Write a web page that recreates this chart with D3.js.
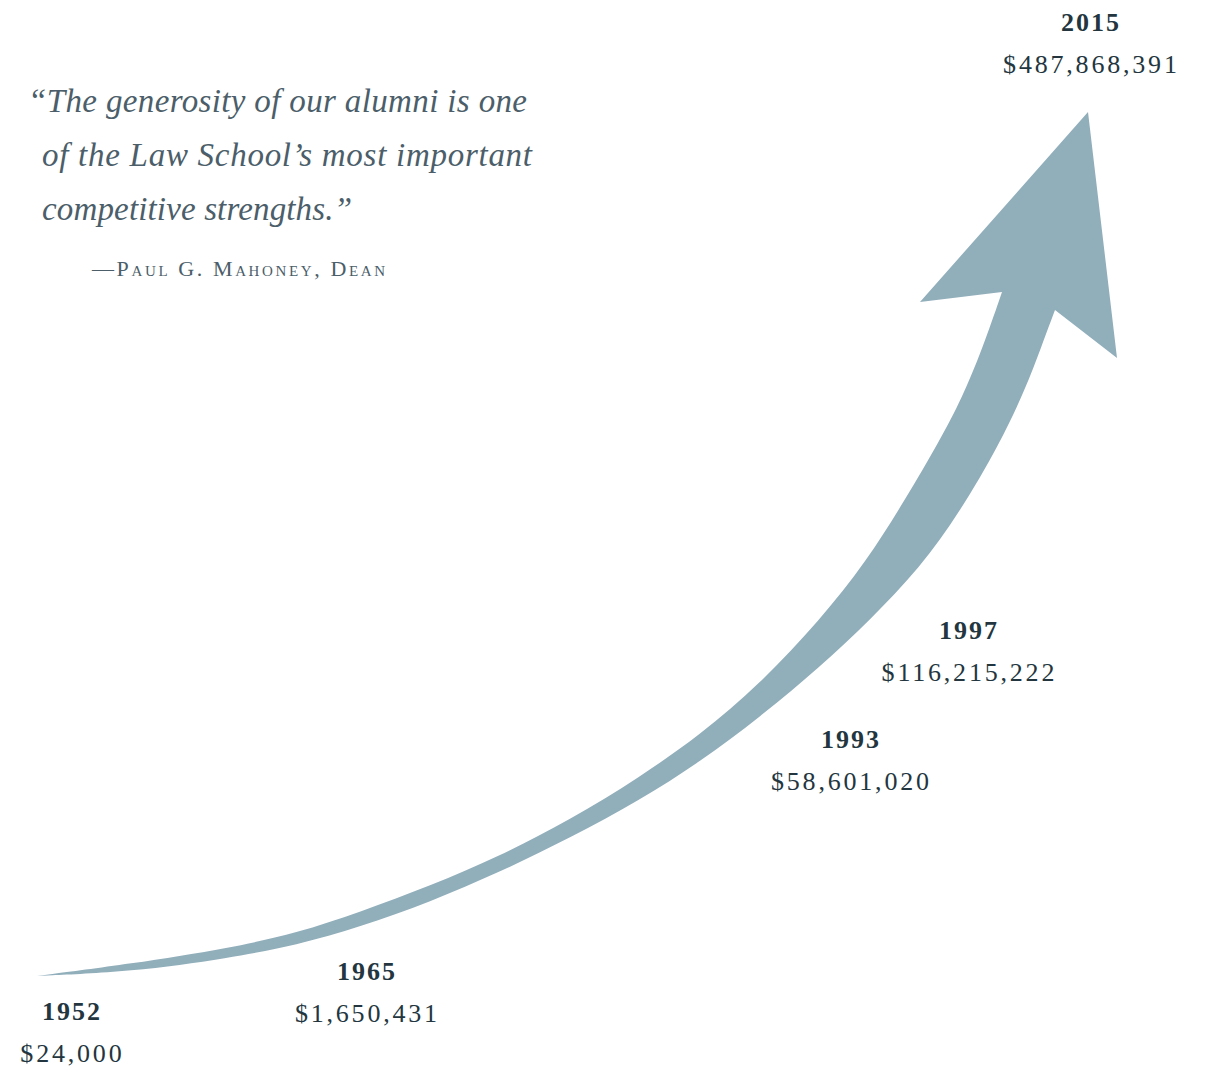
<!DOCTYPE html>
<html>
<head>
<meta charset="utf-8">
<script src="https://cdn.jsdelivr.net/npm/d3@7"></script>
<style>
  html, body { margin: 0; padding: 0; background: #ffffff; }
  svg { display: block; }
</style>
</head>
<body>
<svg id="chart" width="1214" height="1068"></svg>
<script>
// ---- data ----
const years = [1952, 1965, 1993, 1997, 2015];
const values = [24000, 1650431, 58601020, 116215222, 487868391];

const quoteLines = [
  "\u201CThe generosity of our alumni is one",
  "of the Law School\u2019s most important",
  "competitive strengths.\u201D"
];
const attribution = "\u2014Paul G. Mahoney, Dean";

// ---- layout (label anchors, not data) ----
const labelCX = [71, 366, 850, 968, 1090];
const labelBaseY = [1020, 980, 748, 639, 31];

// decorative arrow outline (upper edge tail->head, lower edge tail->head)
const upperEdge = [
  [37, 976], [130, 964], [230, 948], [297, 933], [360, 912], [430, 886],
  [500, 856], [570, 820], [640, 777], [700, 735], [760, 684], [820, 620],
  [866, 562], [905, 500], [940, 440], [962, 398], [982, 350], [1002, 292]
];
const lowerEdge = [
  [37, 976], [130, 972], [230, 958], [297, 945], [360, 927], [430, 902],
  [500, 872], [570, 838], [640, 800], [700, 762], [760, 717], [820, 667],
  [870, 620], [920, 568], [960, 512], [1000, 443], [1025, 390], [1042, 345],
  [1055, 310]
];
const head = [[920, 302], [1088, 112], [1117, 358]];

const colArrow = "#91aebb";
const colLabel = "#233640";
const colQuote = "#4b5e69";

const svg = d3.select("#chart");

// ---- arrow ----
const edge = d3.line().curve(d3.curveBasis);
const upPath = edge(upperEdge);
const lowRev = edge(lowerEdge.slice().reverse());
const headPart = "L" + head[0].join(",") + "L" + head[1].join(",") + "L" + head[2].join(",");
const d = upPath + headPart + "L" + lowRev.slice(1) + "Z";
svg.append("path").attr("d", d).attr("fill", colArrow);

// ---- labels ----
const fmt = d3.format("$,");
const g = svg.append("g").attr("font-family", "'Liberation Serif', 'Times New Roman', serif");
years.forEach((yr, i) => {
  g.append("text")
    .attr("x", labelCX[i] + 1)
    .attr("y", labelBaseY[i])
    .attr("text-anchor", "middle")
    .attr("font-size", 26)
    .attr("font-weight", "bold")
    .attr("letter-spacing", 2)
    .attr("fill", colLabel)
    .text(yr);
  g.append("text")
    .attr("x", labelCX[i] + 1.4)
    .attr("y", labelBaseY[i] + 42)
    .attr("text-anchor", "middle")
    .attr("font-size", 26)
    .attr("letter-spacing", 2.8)
    .attr("fill", colLabel)
    .text(fmt(values[i]));
});

// ---- quote ----
const qx = [28, 42, 42];
const qy = [112, 166, 220];
const qw = [499, 490, 310];
quoteLines.forEach((t, i) => {
  g.append("text")
    .attr("x", qx[i]).attr("y", qy[i])
    .attr("font-size", 33)
    .attr("font-style", "italic")
    .attr("fill", colQuote)
    .attr("textLength", qw[i])
    .attr("lengthAdjust", "spacing")
    .text(t);
});
g.append("text")
  .attr("x", 92).attr("y", 276)
  .attr("font-size", 22)
  .attr("font-variant", "small-caps")
  .attr("fill", colQuote)
  .attr("textLength", 293)
  .attr("lengthAdjust", "spacing")
  .text(attribution);
</script>
</body>
</html>
